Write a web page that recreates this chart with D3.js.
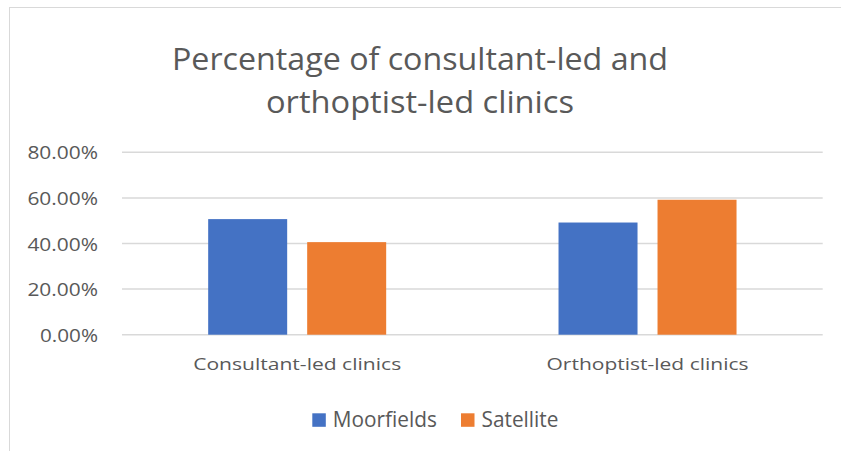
<!DOCTYPE html>
<html><head><meta charset="utf-8">
<script src="https://cdn.jsdelivr.net/npm/d3@7"></script>
<style>body{margin:0;background:#fff}svg{display:block}</style>
</head><body>
<svg id="chart" width="841" height="451"></svg>
<script>
const categories = ["Consultant-led clinics", "Orthoptist-led clinics"];
const seriesNames = ["Moorfields", "Satellite"];
const moorfields = [0.507, 0.492];
const satellite = [0.406, 0.592];
const yTicks = [0, 0.2, 0.4, 0.6, 0.8];
const titleLines = ["Percentage of consultant-led and", "orthoptist-led clinics"];
const colors = ["#4472C4", "#ED7D31"];

const svg = d3.select("#chart");
const font = "'Open Sans', 'Noto Sans', sans-serif";
const textColor = "#595959";

// outer border
svg.append("rect").attr("x", 9.5).attr("y", 7.5).attr("width", 840).attr("height", 450)
  .attr("fill", "#fff").attr("stroke", "#d9d9d9").attr("stroke-width", 1);

function fitText(sel, w) {
  sel.each(function(){ this.setAttribute("textLength", w); this.setAttribute("lengthAdjust", "spacingAndGlyphs"); });
}

// title
const titleY = [69.5, 113];
titleLines.forEach((t, i) => {
  const tx = svg.append("text").attr("x", 420).attr("y", titleY[i]).attr("text-anchor", "middle")
    .attr("font-family", font).attr("font-weight", 400).attr("font-size", 31.5).attr("fill", textColor).text(t);
  fitText(tx, i === 0 ? 496 : 308);
});

const x0 = d3.scaleBand().domain(categories).range([122, 822.7]).paddingInner(0).paddingOuter(0);
const y = d3.scaleLinear().domain([0, 0.8]).range([334.7, 152.3]);

// gridlines
svg.append("g").selectAll("line").data(yTicks).join("line")
  .attr("x1", 122).attr("x2", 822.7)
  .attr("y1", d => y(d)).attr("y2", d => y(d))
  .attr("stroke", "#d9d9d9").attr("stroke-width", 1.5);

// y axis labels
const yAxis = d3.axisLeft(y).tickValues(yTicks).tickSize(0).tickPadding(24)
  .tickFormat(d => (d * 100).toFixed(2) + "%");
const yg = svg.append("g").attr("transform", "translate(122,0)").call(yAxis);
yg.select(".domain").remove();
yg.selectAll("text").attr("font-family", font).attr("font-size", 18.5).attr("fill", textColor).attr("dy", "0.36em");
yg.selectAll("text").each(function(){
  const w = this.textContent.length === 6 ? 70.6 : 58;
  this.setAttribute("textLength", w); this.setAttribute("lengthAdjust", "spacingAndGlyphs");
});

// bars
const barW = 79, gap = 20;
const data = [moorfields, satellite];
data.forEach((vals, s) => {
  svg.append("g").selectAll("rect").data(vals).join("rect")
    .attr("x", (d, i) => x0(categories[i]) + x0.bandwidth() / 2 - (2 * barW + gap) / 2 + s * (barW + gap))
    .attr("width", barW)
    .attr("y", d => y(d))
    .attr("height", d => y(0) - y(d))
    .attr("fill", colors[s]);
});

// category labels
const xAxis = d3.axisBottom(x0).tickSize(0).tickPadding(0);
const xg = svg.append("g").attr("transform", "translate(0,358.3)").call(xAxis);
xg.select(".domain").remove();
xg.selectAll("text").attr("font-family", font).attr("font-size", 16.5).attr("fill", textColor).attr("dy", "0.71em");
xg.selectAll("text").each(function(d, i){
  this.setAttribute("textLength", i === 0 ? 208 : 202); this.setAttribute("lengthAdjust", "spacingAndGlyphs");
});

// legend
const legX = [312.3, 461];
const legW = [104, 77];
seriesNames.forEach((n, i) => {
  svg.append("rect").attr("x", legX[i]).attr("y", 413.3).attr("width", 13.5).attr("height", 13.5).attr("fill", colors[i]);
  const t = svg.append("text").attr("x", legX[i] + 20.5).attr("y", 426.7)
    .attr("font-family", font).attr("font-size", 21).attr("fill", textColor).text(n);
  fitText(t, legW[i]);
});
</script>
</body></html>
